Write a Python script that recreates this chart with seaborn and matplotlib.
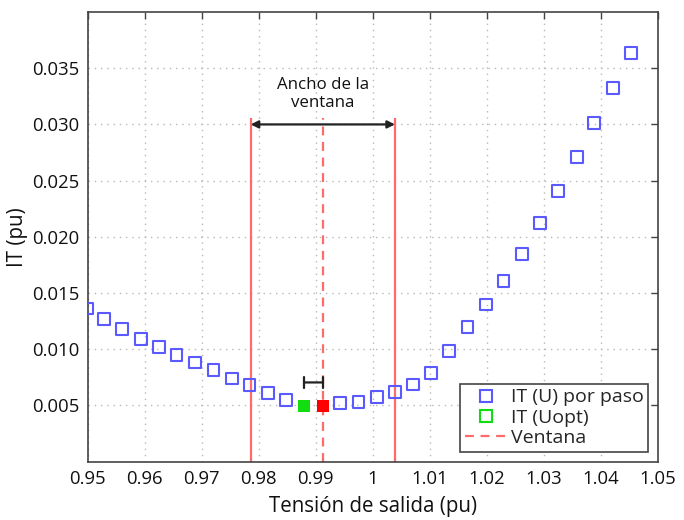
import numpy as np
import pandas as pd
import matplotlib
matplotlib.use("Agg")
import matplotlib.pyplot as plt
from matplotlib.lines import Line2D
import seaborn as sns

# Voltage steps (pu) and the IT index at each step
u_step = [0.9500, 0.9529, 0.9561, 0.9594, 0.9626, 0.9656, 0.9688, 0.9721,
          0.9753, 0.9784, 0.9816, 0.9848, 0.9943, 0.9975, 1.0007, 1.0039,
          1.0070, 1.0102, 1.0134, 1.0166, 1.0199, 1.0229, 1.0261, 1.0293,
          1.0325, 1.0358, 1.0388, 1.0421, 1.0453]
it_step = [0.01363, 0.01268, 0.01177, 0.01090, 0.01022, 0.00948, 0.00883,
           0.00814, 0.00740, 0.00681, 0.00612, 0.00547, 0.00523, 0.00532,
           0.00577, 0.00621, 0.00687, 0.00790, 0.00985, 0.01200, 0.01399,
           0.01609, 0.01844, 0.02125, 0.02407, 0.02713, 0.03013, 0.03321,
           0.03633]

# Optimal point and window centre
u_opt, it_opt = 0.9880, 0.00494
u_center, it_center = 0.9912, 0.00494

# Window limits and annotation levels
win_low, win_high = 0.9786, 1.0039
win_top = 0.0306
arrow_y = 0.0300
gap_y = 0.00705

x_ticks = [0.95, 0.96, 0.97, 0.98, 0.99, 1.00, 1.01, 1.02, 1.03, 1.04, 1.05]
x_labels = ["0.95", "0.96", "0.97", "0.98", "0.99", "1", "1.01", "1.02",
            "1.03", "1.04", "1.05"]
y_ticks = [0.005, 0.010, 0.015, 0.020, 0.025, 0.030, 0.035]
y_labels = ["0.005", "0.010", "0.015", "0.020", "0.025", "0.030", "0.035"]

sns.set_theme(style="white")
plt.rcParams["font.family"] = ["Open Sans", "DejaVu Sans"]

fig = plt.figure(figsize=(6.84, 5.2), dpi=100)
ax = fig.add_axes([87.5 / 684, 1 - 461.7 / 520, (658 - 87.5) / 684, (461.7 - 12) / 520])

blue = "#5a5aff"
green = "#11dd11"
red_fill = "#ff0000"
red_line = "#ff6a6a"

df = pd.DataFrame({"U": u_step, "IT": it_step})

# Window lines
ax.vlines([win_low, win_high], 0, win_top, colors=red_line, linewidth=1.6, zorder=2)
ax.vlines([u_center], 0, win_top, colors=red_line, linewidth=1.6,
          linestyles=[(0, (4, 3))], zorder=2)

sns.scatterplot(data=df, x="U", y="IT", ax=ax, marker="s", s=72,
                facecolor="none", edgecolor=blue, linewidth=1.5, zorder=3,
                legend=False)
ax.scatter([u_opt], [it_opt], marker="s", s=78, color=green, linewidth=0, zorder=4)
ax.scatter([u_center], [it_center], marker="s", s=78, color=red_fill, linewidth=0, zorder=4)

# Window width arrow and label
ax.annotate("", xy=(win_low, arrow_y), xytext=(win_high, arrow_y),
            arrowprops=dict(arrowstyle="<|-|>", color="#222222", lw=1.6,
                            mutation_scale=11, shrinkA=0, shrinkB=0), zorder=5)
ax.text((win_low + win_high) / 2, 0.0327, "Ancho de la\nventana", ha="center",
        va="center", fontsize=12.2, color="#111111", linespacing=1.2)

# Distance between optimum and window centre
ax.annotate("", xy=(u_opt, gap_y), xytext=(u_center, gap_y),
            arrowprops=dict(arrowstyle="|-|", color="#222222", lw=1.6,
                            mutation_scale=4, shrinkA=0, shrinkB=0), zorder=5)

ax.set_xlim(0.95, 1.05)
ax.set_ylim(0.0, 0.04)
ax.set_xticks(x_ticks)
ax.set_xticklabels(x_labels)
ax.set_yticks(y_ticks)
ax.set_yticklabels(y_labels)
ax.tick_params(direction="in", length=5, width=1, color="#444444",
               top=True, right=True, labelsize=13.3, pad=6, labelcolor="#111111")
ax.grid(True, linestyle=(0, (1, 3.5)), color="#b8b8b8", linewidth=1)
for sp in ax.spines.values():
    sp.set_color("#444444")
    sp.set_linewidth(1.2)

ax.set_xlabel("Tensión de salida (pu)", fontsize=14.8, color="#111111", labelpad=6)
ax.set_ylabel("IT (pu)", fontsize=14.8, color="#111111", labelpad=3)

handles = [
    Line2D([], [], linestyle="none", marker="s", markersize=9,
           markerfacecolor="none", markeredgecolor=blue, markeredgewidth=1.5),
    Line2D([], [], linestyle="none", marker="s", markersize=9,
           markerfacecolor="none", markeredgecolor=green, markeredgewidth=1.5),
    Line2D([], [], color=red_line, linewidth=1.6, linestyle=(0, (4, 3))),
]
leg = ax.legend(handles, ["IT (U) por paso", "IT (Uopt)", "Ventana"],
                loc="lower right", fontsize=14, frameon=True, fancybox=False,
                handlelength=2.2, handletextpad=0.15, borderpad=0.25,
                labelspacing=0.12, borderaxespad=0.5)
leg.get_frame().set_edgecolor("#444444")
leg.get_frame().set_linewidth(1.2)
leg.get_frame().set_alpha(1)

fig.savefig("out.png", dpi=100)
